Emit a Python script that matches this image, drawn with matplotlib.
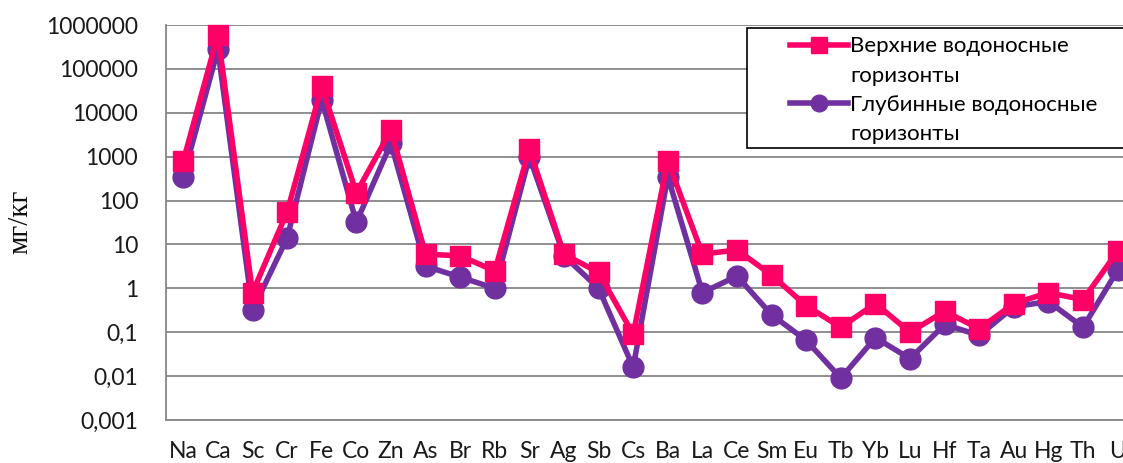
import matplotlib
matplotlib.use("Agg")
import matplotlib.pyplot as plt
from matplotlib.lines import Line2D
from matplotlib.patches import Rectangle
from matplotlib.ticker import FixedLocator, FixedFormatter, NullLocator

elements = ["Na", "Ca", "Sc", "Cr", "Fe", "Co", "Zn", "As", "Br", "Rb", "Sr", "Ag", "Sb", "Cs",
            "Ba", "La", "Ce", "Sm", "Eu", "Tb", "Yb", "Lu", "Hf", "Ta", "Au", "Hg", "Th", "U"]
upper = [800, 600000, 0.8, 55, 40000, 150, 4000, 6, 5.5, 2.5, 1500, 6, 2.3, 0.09,
         800, 6, 7.5, 2, 0.4, 0.13, 0.45, 0.1, 0.3, 0.12, 0.45, 0.8, 0.55, 7]
deep = [350, 280000, 0.32, 14, 20000, 32, 2000, 3.2, 1.8, 1.0, 1000, 5.5, 1.0, 0.016,
        350, 0.8, 1.9, 0.25, 0.065, 0.009, 0.075, 0.025, 0.15, 0.085, 0.38, 0.5, 0.13, 2.6]
y_ticks = [0.001, 0.01, 0.1, 1, 10, 100, 1000, 10000, 100000, 1000000]
y_tick_labels = ["0,001", "0,01", "0,1", "1", "10", "100", "1000", "10000", "100000", "1000000"]
label_upper = "Верхние водоносные"
label_deep = "Глубинные водоносные"
label_cont = "горизонты"
y_label = "мг/кг"

PINK = "#FF0066"
PURPLE = "#7030A0"
GRID = "#868686"
FONT = ["Lato", "DejaVu Sans"]

fig = plt.figure(figsize=(11.23, 4.63), dpi=100)
W, H = 1123, 463
left, right, top, bottom = 166, 1135, 25, 420
ax = fig.add_axes([left / W, 1 - bottom / H, (right - left) / W, (bottom - top) / H])

x = list(range(len(elements)))
ax.plot(x, deep, color=PURPLE, lw=4, marker="o", ms=15, zorder=3, clip_on=False)
ax.plot(x, upper, color=PINK, lw=4, marker="s", ms=14.5, zorder=4, clip_on=False)

ax.set_yscale("log")
ax.set_ylim(1e-3, 1e6)
ax.set_xlim(-0.5, len(elements) - 0.5)
ax.yaxis.set_major_locator(FixedLocator(y_ticks))
ax.yaxis.set_major_formatter(FixedFormatter(y_tick_labels))
ax.yaxis.set_minor_locator(NullLocator())
ax.set_xticks(x)
ax.set_xticklabels(elements)
ax.grid(axis="y", color=GRID, lw=1.3)
ax.set_axisbelow(True)
for s in ["top", "right"]:
    ax.spines[s].set_visible(False)
for s in ["left", "bottom"]:
    ax.spines[s].set_color(GRID)
    ax.spines[s].set_linewidth(1.3)
ax.tick_params(axis="both", length=0, labelsize=16.5, colors="#1a1a1a")
ax.tick_params(axis="x", pad=15)
ax.tick_params(axis="y", pad=20)
for lab in ax.get_xticklabels() + ax.get_yticklabels():
    lab.set_family(FONT)

fig.text(20 / W, 1 - 222 / H, y_label, rotation=90, ha="center", va="center",
         family=["Liberation Serif", "DejaVu Serif"], fontsize=21, color="#111111")

# legend frame (extends past the right edge, as in the reference)
box = Rectangle((747 / W, 1 - 148 / H), 420 / W, 120 / H, transform=fig.transFigure,
                facecolor="white", edgecolor="black", lw=1.2, zorder=5)
fig.add_artist(box)

handles = [
    Line2D([], [], color=PINK, lw=4, marker="s", ms=12),
    Line2D([], [], color="none"),
    Line2D([], [], color=PURPLE, lw=4, marker="o", ms=12),
    Line2D([], [], color="none"),
]
labels = [label_upper, label_cont, label_deep, label_cont]
leg = fig.legend(handles, labels, loc="upper left", bbox_to_anchor=(786 / W, 1 - 32 / H),
                 frameon=False, prop={"family": FONT, "size": 16}, handlelength=2.6,
                 handletextpad=0.1, labelspacing=0.42, borderpad=0.2, borderaxespad=0)
leg.set_zorder(10)

fig.savefig("out.png", dpi=100)
